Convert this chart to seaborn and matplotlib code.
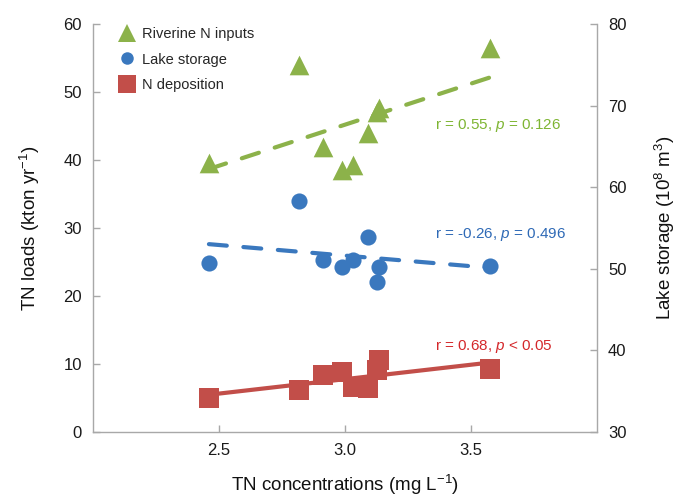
import matplotlib
matplotlib.use("Agg")
import matplotlib.pyplot as plt
import seaborn as sns
import pandas as pd
from matplotlib.lines import Line2D

# ---- data ----
tn_conc = [2.46, 2.817, 2.913, 2.99, 3.03, 3.09, 3.127, 3.135, 3.575]
riverine_n = [39.6, 54.0, 41.9, 38.5, 39.3, 44.0, 47.0, 47.6, 56.5]
lake_storage = [50.7, 58.3, 51.1, 50.2, 51.1, 53.9, 48.4, 50.2, 50.3]
n_deposition = [5.0, 6.2, 8.4, 8.8, 6.6, 6.5, 9.1, 10.6, 9.3]

series_names = ["Riverine N inputs", "Lake storage", "N deposition"]
stats_text = ["r = 0.55, $\\mathit{p}$ = 0.126",
              "r = -0.26, $\\mathit{p}$ = 0.496",
              "r = 0.68, $\\mathit{p}$ < 0.05"]
x_ticks = [2.5, 3.0, 3.5]
left_ticks = [0, 10, 20, 30, 40, 50, 60]
right_ticks = [30, 40, 50, 60, 70, 80]

df = pd.DataFrame({"tn": tn_conc, "riv": riverine_n,
                   "lake": lake_storage, "dep": n_deposition})

GREEN = "#8CB24A"
BLUE = "#3A78BE"
RED = "#C24E49"
GREEN_T = "#7EB533"
BLUE_T = "#2F6AB6"
RED_T = "#D4282B"
SPINE = "#A8A8A8"

sns.set_theme(style="white")
plt.rcParams["font.family"] = ["Liberation Sans", "DejaVu Sans"]
plt.rcParams["mathtext.fontset"] = "custom"
plt.rcParams["mathtext.rm"] = "Liberation Sans"
plt.rcParams["mathtext.sf"] = "Liberation Sans"
plt.rcParams["mathtext.it"] = "Liberation Sans:italic"
plt.rcParams["mathtext.default"] = "rm"

fig = plt.figure(figsize=(6.88, 4.99), dpi=100)
ax = fig.add_axes([0.1352, 0.1343, 0.7325, 0.8176])
ax2 = ax.twinx()

# regression lines
sns.regplot(data=df, x="tn", y="riv", ax=ax, scatter=False, ci=None,
            color=GREEN, line_kws=dict(lw=3.0, dashes=(4.3, 4.0),
                                       dash_capstyle="round", zorder=2))
sns.regplot(data=df, x="tn", y="dep", ax=ax, scatter=False, ci=None,
            color=RED, line_kws=dict(lw=3.0, solid_capstyle="round", zorder=2))
sns.regplot(data=df, x="tn", y="lake", ax=ax2, scatter=False, ci=None,
            color=BLUE, line_kws=dict(lw=3.0, dashes=(4.3, 4.0),
                                      dash_capstyle="round", zorder=2))

# markers
sns.scatterplot(data=df, x="tn", y="riv", ax=ax, marker="^", s=200,
                color=GREEN, linewidth=0, zorder=3, legend=False)
sns.scatterplot(data=df, x="tn", y="dep", ax=ax, marker="s", s=200,
                color=RED, linewidth=0, zorder=3, legend=False)
sns.scatterplot(data=df, x="tn", y="lake", ax=ax2, marker="o", s=135,
                color=BLUE, linewidth=0, zorder=3, legend=False)

# axes limits / ticks
ax.set_xlim(2.0, 4.0)
ax.set_ylim(0, 60)
ax2.set_ylim(30, 80)
ax.set_xticks(x_ticks)
ax.set_xticklabels([f"{v:.1f}" for v in x_ticks])
ax.set_yticks(left_ticks)
ax2.set_yticks(right_ticks)

ax.set_xlabel("TN concentrations (mg L$^{-1}$)", fontsize=13.5, labelpad=11,
              color="#111111")
ax.set_ylabel("TN loads (kton yr$^{-1}$)", fontsize=13.5, labelpad=15.5,
              color="#111111")
ax2.set_ylabel("Lake storage (10$^{8}$ m$^{3}$)", fontsize=13.5, labelpad=19,
               color="#111111")

for a in (ax, ax2):
    for s in a.spines.values():
        s.set_color(SPINE)
        s.set_linewidth(1.0)
    a.spines["top"].set_visible(False)
ax.spines["right"].set_visible(False)
ax2.spines["left"].set_visible(False)
ax2.spines["bottom"].set_visible(False)

ax.tick_params(axis="both", which="both", direction="in", length=5, width=1,
               color=SPINE, labelsize=12, labelcolor="#1a1a1a", pad=8,
               bottom=True, left=True, top=False, right=False)
ax2.tick_params(axis="y", direction="in", length=5, width=1, color=SPINE,
                labelsize=12, labelcolor="#1a1a1a", pad=8,
                right=True, left=False)

# annotations
ax.text(3.357, 45.1, stats_text[0], color=GREEN_T, fontsize=11,
        ha="left", va="center")
ax.text(3.357, 29.0, stats_text[1], color=BLUE_T, fontsize=11,
        ha="left", va="center")
ax.text(3.357, 12.6, stats_text[2], color=RED_T, fontsize=11,
        ha="left", va="center")

# legend
handles = [
    Line2D([], [], marker="^", ls="", color=GREEN, markersize=13, mew=0),
    Line2D([], [], marker="o", ls="", color=BLUE, markersize=9, mew=0),
    Line2D([], [], marker="s", ls="", color=RED, markersize=12.5, mew=0),
]
ax2.legend(handles, series_names, loc="upper left",
           bbox_to_anchor=(0.053, 0.993), frameon=False, fontsize=10.5,
           handlelength=1.0, handletextpad=0.55, labelspacing=0.8,
           borderpad=0.0, borderaxespad=0.0)

fig.savefig("out.png", dpi=100)
